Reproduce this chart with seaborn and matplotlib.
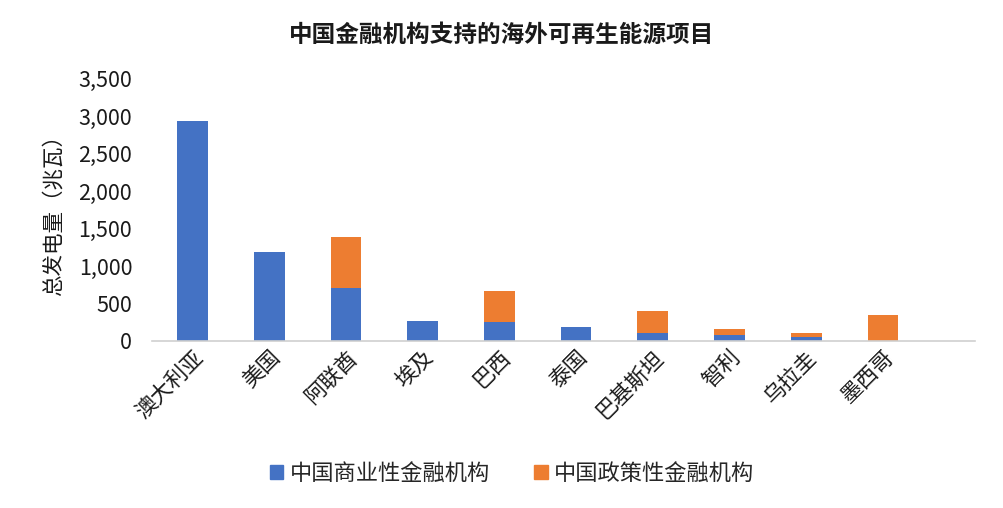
import matplotlib
matplotlib.use("Agg")
import matplotlib.pyplot as plt
import seaborn as sns
from matplotlib.patches import Patch
from matplotlib.ticker import FuncFormatter

# data (MW)
countries = ['澳大利亚', '美国', '阿联酋', '埃及', '巴西', '泰国', '巴基斯坦', '智利', '乌拉圭', '墨西哥']
commercial = [2930, 1190, 700, 270, 250, 190, 110, 80, 50, 0]
policy = [0, 0, 690, 0, 420, 0, 290, 80, 60, 350]
totals = [c + p for c, p in zip(commercial, policy)]

series_names = ['中国商业性金融机构', '中国政策性金融机构']
blue = '#4472C4'
orange = '#ED7D31'

sns.set_theme(style='white')
plt.rcParams['font.family'] = ['Noto Sans CJK SC', 'DejaVu Sans']

fig = plt.figure(figsize=(10.04, 5.08), dpi=100)
ax = fig.add_axes([0.151, 0.329, 0.82, 0.516])

# stacked: draw totals in orange, then commercial part in blue over it
sns.barplot(x=countries, y=totals, color=orange, width=0.40, saturation=1, linewidth=0, ax=ax)
sns.barplot(x=countries, y=commercial, color=blue, width=0.40, saturation=1, linewidth=0, ax=ax)

ax.set_ylim(0, 3500)
ax.set_yticks(range(0, 3501, 500))
ax.yaxis.set_major_formatter(FuncFormatter(lambda v, p: f'{int(v):,}'))
ax.tick_params(axis='y', labelsize=15.5, colors='#1a1a1a', length=0, pad=14)
ax.tick_params(axis='x', labelsize=15.5, colors='#1a1a1a', length=0, pad=4)
for lab in ax.get_yticklabels():
    lab.set_fontweight('medium')
for lab in ax.get_xticklabels():
    lab.set_rotation(45)
    lab.set_ha('right')
    lab.set_rotation_mode('anchor')
    lab.set_fontweight('medium')

for side in ['top', 'right', 'left']:
    ax.spines[side].set_visible(False)
ax.spines['bottom'].set_color('#d0d0d0')
ax.spines['bottom'].set_linewidth(1.2)
ax.set_xlim(-0.535, 10.2)

ax.set_ylabel('总发电量（兆瓦）', fontsize=15.5, color='#1a1a1a', labelpad=10, fontweight='medium')
ax.set_xlabel('')

fig.suptitle('中国金融机构支持的海外可再生能源项目', fontsize=17, y=0.955, color='#1a1a1a', fontweight='bold')

handles = [Patch(color=blue, label=series_names[0]), Patch(color=orange, label=series_names[1])]
fig.legend(handles=handles, loc='center', bbox_to_anchor=(0.51, 0.068), ncol=2,
           frameon=False, prop={'size': 16, 'weight': 'medium'}, handlelength=0.6, handleheight=0.6,
           handletextpad=0.3, columnspacing=2.0)

fig.savefig('out.png', dpi=100)
